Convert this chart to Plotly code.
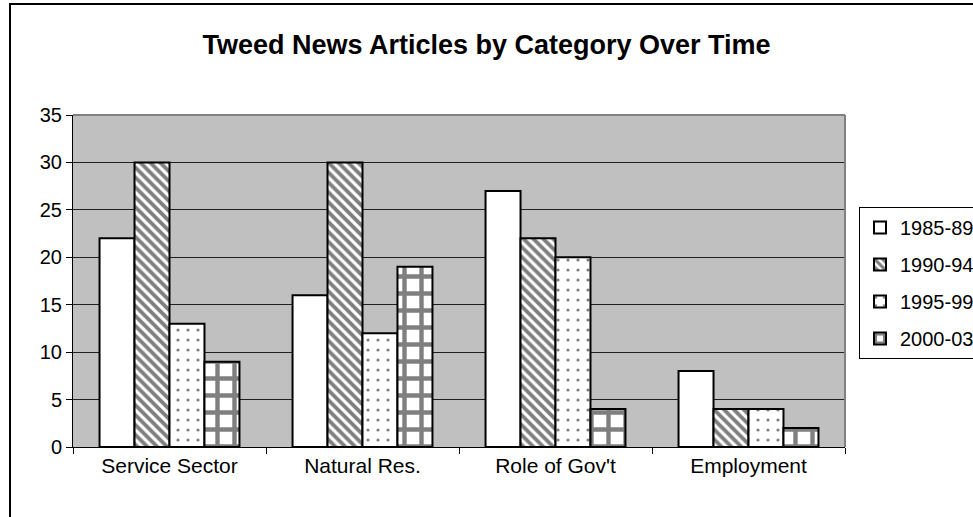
import plotly.graph_objects as go

categories = ["Service Sector", "Natural Res.", "Role of Gov't", "Employment"]
series_names = ["1985-89", "1990-94", "1995-99", "2000-03"]
v_1985_89 = [22, 16, 27, 8]
v_1990_94 = [30, 30, 22, 4]
v_1995_99 = [13, 12, 20, 4]
v_2000_03 = [9, 19, 4, 2]
series_values = [v_1985_89, v_1990_94, v_1995_99, v_2000_03]
y_ticks = [0, 5, 10, 15, 20, 25, 30, 35]

patterns = [
    dict(shape="", fgcolor="black", bgcolor="white"),
    dict(shape="\\", fgcolor="black", bgcolor="white", size=7, solidity=0.55),
    dict(shape=".", fgcolor="black", bgcolor="white", size=10, solidity=0.08),
    dict(shape="+", fgcolor="black", bgcolor="white", size=17, solidity=0.45),
]

FONT = "Liberation Sans, Arial, sans-serif"

fig = go.Figure()
for name, vals, pat in zip(series_names, series_values, patterns):
    fig.add_trace(go.Bar(
        x=categories, y=vals, name=name, legendgroup=name,
        marker=dict(color="white", line=dict(color="black", width=2), pattern=pat),
    ))

# plot area geometry (pixels)
L, R, T, B = 73, 845, 115, 447
W, H = 973, 517
pw, ph = R - L, B - T

def px_x(x):
    return (x - L) / pw

def px_y(y):
    return (B - y) / ph

fig.update_layout(
    width=W, height=H,
    margin=dict(l=L, r=W - R, t=T, b=H - B, autoexpand=False),
    paper_bgcolor="white",
    plot_bgcolor="#C0C0C0",
    barmode="group",
    bargap=0.275,
    bargroupgap=0,
    font=dict(family=FONT, size=19, color="black"),
    title=dict(
        text="<b>Tweed News Articles by Category Over Time</b>",
        x=0.5, xref="container", xanchor="center",
        y=1 - 45 / H, yref="container", yanchor="middle",
        font=dict(family=FONT, size=27, color="black"),
    ),
    xaxis=dict(
        showline=True, linecolor="black", linewidth=1,
        ticks="outside", ticklen=6, tickcolor="black", tickwidth=1,
        tickson="boundaries", showgrid=False,
        tickfont=dict(size=21),
    ),
    yaxis=dict(
        range=[0, 35], tickvals=y_ticks,
        showline=True, linecolor="black", linewidth=1,
        ticks="outside", ticklen=6, tickcolor="black", tickwidth=1,
        showgrid=True, gridcolor="#202020", gridwidth=1,
        zeroline=False, tickfont=dict(size=20),
    ),
    legend=dict(
        x=px_x(859), xanchor="left", y=px_y(207), yanchor="top",
        bgcolor="white", bordercolor="black", borderwidth=1,
        font=dict(size=20), tracegroupgap=8,
    ),
    showlegend=True,
)

# plot-area gray frame (top and right edges)
fig.add_shape(type="line", xref="paper", yref="paper", x0=0, x1=1, y0=1, y1=1,
              line=dict(color="#808080", width=2))
fig.add_shape(type="line", xref="paper", yref="paper", x0=1, x1=1, y0=0, y1=1,
              line=dict(color="#808080", width=2))
# outer chart border
fig.add_shape(type="rect", xref="paper", yref="paper",
              x0=px_x(10), x1=px_x(1000), y0=px_y(540), y1=px_y(4),
              line=dict(color="black", width=2), fillcolor="rgba(0,0,0,0)")

fig.write_html("out.html")
